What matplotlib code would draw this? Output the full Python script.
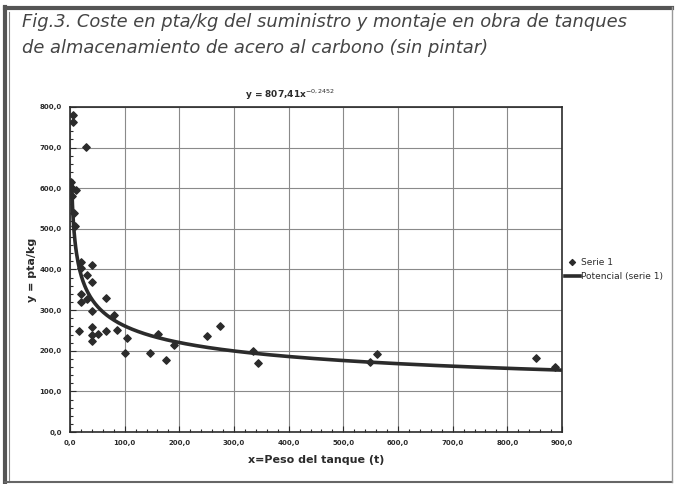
import numpy as np
import matplotlib.pyplot as plt
from matplotlib.ticker import MultipleLocator, FuncFormatter

# data
peso = [2, 3, 4, 5, 5, 7, 9, 11, 16, 20, 20, 21, 21, 30, 32, 32, 40, 40, 40,
        40, 41, 41, 51, 65, 65, 80, 86, 100, 105, 146, 161, 176, 190, 250,
        275, 334, 343, 548, 561, 853, 887]
coste = [615, 600, 580, 781, 764, 540, 506, 596, 249, 404, 321, 419, 340,
         701, 387, 327, 410, 370, 299, 259, 239, 225, 241, 329, 249, 288,
         251, 194, 231, 194, 241, 177, 214, 236, 261, 200, 169, 173, 191,
         183, 161]
coef_a = 807.41
coef_b = -0.2452

x_ticks = np.arange(0, 901, 100)
y_ticks = np.arange(0, 801, 100)

ink = '#2b2b2b'
fig = plt.figure(figsize=(6.75, 4.84), dpi=100)

# outer frame of the scanned box: heavy top/left, light bottom/right
fig.add_artist(plt.Line2D([0.007, 0.007], [0.004, 0.985], lw=3, color='#555555'))
fig.add_artist(plt.Line2D([0.007, 0.995], [0.983, 0.983], lw=3, color='#555555'))
fig.add_artist(plt.Line2D([0.014, 0.014], [0.004, 0.975], lw=0.8, color='#888888'))
fig.add_artist(plt.Line2D([0.007, 0.995], [0.005, 0.005], lw=1.5, color='#666666'))
fig.add_artist(plt.Line2D([0.995, 0.995], [0.004, 0.985], lw=1.0, color='#999999'))

fig.text(0.033, 0.955, "Fig.3. Coste en pta/kg del suministro y montaje en obra de tanques",
         fontsize=12.9, style='italic', family='DejaVu Sans', color='#444444', va='center')
fig.text(0.033, 0.900, "de almacenamiento de acero al carbono (sin pintar)",
         fontsize=12.9, style='italic', family='DejaVu Sans', color='#444444', va='center')

ax = fig.add_axes([0.1037, 0.1074, 0.7289, 0.6716])

xs = np.linspace(3, 900, 600)
ax.scatter(peso, coste, marker='D', s=14, color=ink, zorder=3, label='Serie 1')
ax.plot(xs, coef_a * xs ** coef_b, color=ink, lw=2.6, zorder=2, label='Potencial (serie 1)')

ax.set_xlim(0, 900)
ax.set_ylim(0, 800)
ax.set_xticks(x_ticks)
ax.set_yticks(y_ticks)
ax.xaxis.set_minor_locator(MultipleLocator(20))
ax.yaxis.set_minor_locator(MultipleLocator(20))
fmt = FuncFormatter(lambda v, p: f"{v:.1f}".replace('.', ','))
ax.xaxis.set_major_formatter(fmt)
ax.yaxis.set_major_formatter(fmt)
ax.tick_params(which='both', direction='in', labelsize=5, width=0.8, colors=ink, pad=6)
ax.tick_params(which='major', length=4)
ax.tick_params(which='minor', length=2.5)
for lab in ax.get_xticklabels() + ax.get_yticklabels():
    lab.set_fontweight('bold')
ax.grid(True, which='major', color='#8a8a8a', lw=0.8)
for s in ax.spines.values():
    s.set_color(ink)
    s.set_linewidth(1.2)

ax.set_xlabel("x=Peso del tanque (t)", fontsize=8, fontweight='bold', color=ink, labelpad=6)
ax.set_ylabel("y = pta/kg", fontsize=8, fontweight='bold', color=ink, labelpad=2)
ax.text(0.447, 1.015, r"y = 807,41x$^{-0,2452}$", transform=ax.transAxes,
        fontsize=6.5, fontweight='bold', color=ink, va='bottom', ha='center')

leg = ax.legend(loc='center left', bbox_to_anchor=(0.99, 0.50), frameon=False,
                fontsize=6.5, handlelength=1.6, handletextpad=0.1, labelspacing=0.6,
                markerscale=0.8)
for t in leg.get_texts():
    t.set_color(ink)

fig.savefig('out.png', dpi=100)
